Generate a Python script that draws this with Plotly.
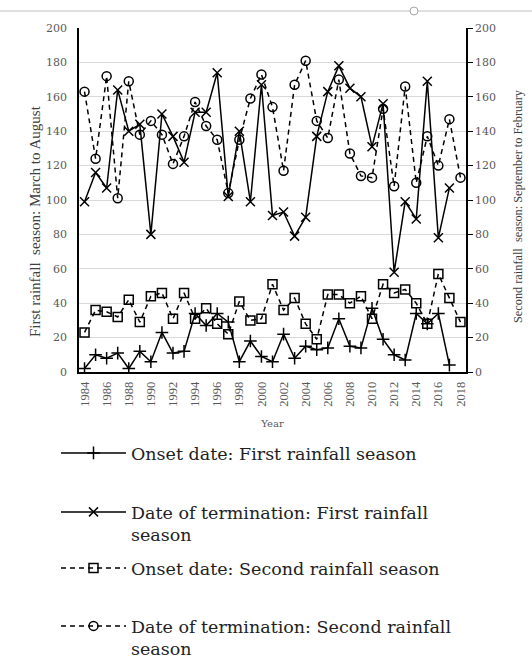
import plotly.graph_objects as go

years = list(range(1984, 2019))
years_first = list(range(1984, 2018))

onset_first = [2, 10, 8, 11, 2, 12, 6, 23, 11, 12, 34, 27, 34, 29, 6, 18, 9, 6, 22, 8,
               15, 13, 14, 31, 15, 14, 37, 19, 10, 7, 34, 28, 34, 4]
term_first = [99, 116, 107, 164, 140, 144, 80, 150, 137, 122, 151, 151, 174, 102, 140, 99,
              167, 91, 93, 79, 90, 137, 163, 178, 165, 160, 131, 156, 58, 99, 89, 169, 78, 107]
onset_second = [23, 36, 35, 32, 42, 29, 44, 46, 31, 46, 31, 37, 28, 22, 41, 30, 31, 51, 36,
                43, 28, 19, 45, 45, 40, 44, 31, 51, 46, 48, 40, 28, 57, 43, 29]
term_second = [163, 124, 172, 101, 169, 138, 146, 138, 121, 137, 157, 143, 135, 104, 135, 159,
               173, 154, 117, 167, 181, 146, 136, 170, 127, 114, 113, 153, 108, 166, 110, 137,
               120, 147, 113]

names = ["Onset date: First rainfall season",
         "Date of termination: First rainfall<br>season",
         "Onset date: Second rainfall season",
         "Date of termination: Second rainfall<br>season"]
left_title = "First rainfall  season: March to August"
right_title = "Second rainfall  season: September to February"

SERIF = "Liberation Serif"
WIDE = "DejaVu Serif"
GRAY = "#595959"
DASH = "5px,4px"

fig = go.Figure()
fig.add_trace(go.Scatter(x=years_first, y=onset_first, name=names[0], mode="lines+markers",
                         line=dict(color="black", width=1.5),
                         marker=dict(symbol="cross-thin-open", size=9, color="black",
                                     line=dict(color="black", width=1.5)),
                         legend="legend"))
fig.add_trace(go.Scatter(x=years_first, y=term_first, name=names[1], mode="lines+markers",
                         line=dict(color="black", width=1.5),
                         marker=dict(symbol="x-thin-open", size=9, color="black",
                                     line=dict(color="black", width=1.5)),
                         legend="legend2"))
fig.add_trace(go.Scatter(x=years, y=onset_second, name=names[2], mode="lines+markers",
                         line=dict(color="black", width=1.5, dash=DASH),
                         marker=dict(symbol="square-open", size=9, color="black",
                                     line=dict(color="black", width=1.5)),
                         legend="legend3"))
fig.add_trace(go.Scatter(x=years, y=term_second, name=names[3], mode="lines+markers",
                         line=dict(color="black", width=1.5, dash=DASH),
                         marker=dict(symbol="circle-open", size=9, color="black",
                                     line=dict(color="black", width=1.5)),
                         yaxis="y2", legend="legend4"))

H = 344.0
W = 387.0
def py(px):
    return (372 - px) / H

def px_(x):
    return (x - 79) / W

def cy(px):
    return 1 - px / 658.0

def cx(px):
    return px / 532.0

leg_common = dict(x=cx(56), xref="container", yref="container", xanchor="left", yanchor="top",
                  bgcolor="rgba(0,0,0,0)",
                  font=dict(family=WIDE, size=17.5, color="#222222"), itemwidth=65,
                  valign="top")

fig.update_layout(
    width=532, height=658,
    margin=dict(l=79, r=66, t=28, b=286, autoexpand=False),
    paper_bgcolor="white", plot_bgcolor="white",
    showlegend=True,
    font=dict(family=SERIF, color=GRAY, size=12),
    xaxis=dict(range=[1983.5, 2018.5], tickvals=years[::2], ticktext=[str(y) for y in years[::2]],
               tickangle=-90, showgrid=False, showline=True, linecolor="black", linewidth=1.5,
               ticks="outside", ticklen=3, tickcolor="rgba(0,0,0,0)",
               tickfont=dict(family=SERIF, size=12.5, color=GRAY),
               title=dict(text="Year", font=dict(family=WIDE, size=10, color=GRAY), standoff=14),
               zeroline=False),
    yaxis=dict(range=[0, 200], dtick=20, showgrid=True, gridcolor="#d9d9d9", gridwidth=1,
               showline=True, linecolor="black", linewidth=1.5,
               ticks="outside", ticklen=8, tickcolor="rgba(0,0,0,0)",
               tickfont=dict(family=WIDE, size=11, color=GRAY), zeroline=False),
    yaxis2=dict(range=[0, 200], dtick=20, overlaying="y", side="right", showgrid=False,
                showline=True, linecolor="black", linewidth=1.5, ticks="outside", ticklen=5,
                tickcolor="black", tickfont=dict(family=WIDE, size=11, color=GRAY), zeroline=False),
    legend=dict(y=cy(435), **leg_common),
    legend2=dict(y=cy(494), **leg_common),
    legend3=dict(y=cy(550), **leg_common),
    legend4=dict(y=cy(608), **leg_common),
    annotations=[
        dict(text=left_title, textangle=-90, xref="paper", yref="paper",
             x=px_(35), y=py(221), xanchor="center", yanchor="middle", showarrow=False,
             font=dict(family=SERIF, size=15, color="#404040")),
        dict(text=right_title, textangle=-90, xref="paper", yref="paper",
             x=px_(518), y=py(206), xanchor="center", yanchor="middle", showarrow=False,
             font=dict(family=SERIF, size=12.3, color="#404040")),
    ],
    shapes=[
        dict(type="line", xref="paper", yref="paper", x0=-79/387, x1=(532-79)/387,
             y0=py(11), y1=py(11), line=dict(color="#bfbfbf", width=1)),
        dict(type="circle", xref="paper", yref="paper", x0=(410-79)/387, x1=(418-79)/387,
             y0=py(7), y1=py(15), line=dict(color="#a6a6a6", width=1), fillcolor="white"),
    ],
)

fig.write_html("out.html")
